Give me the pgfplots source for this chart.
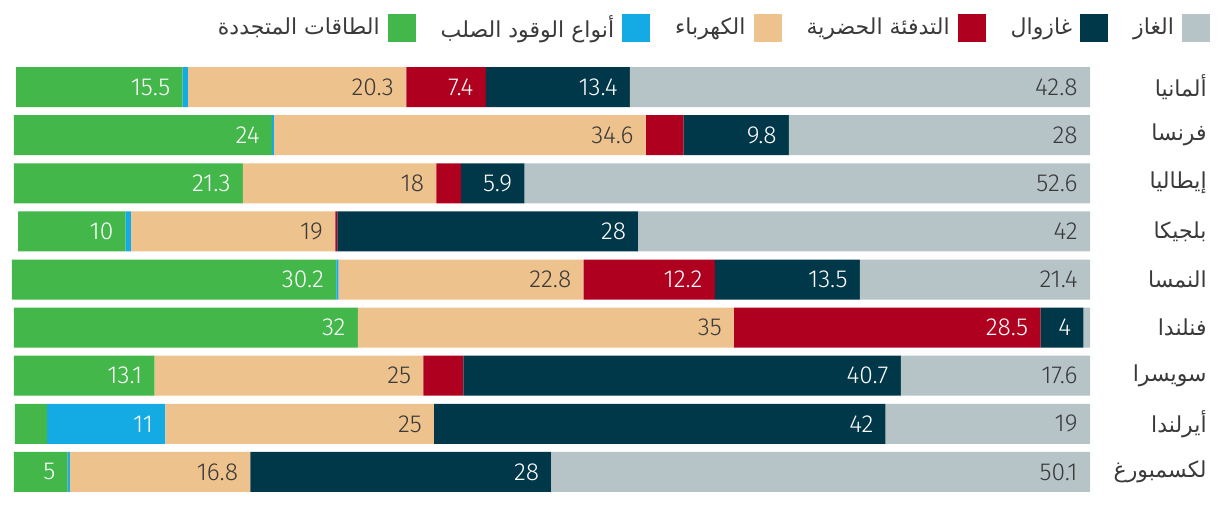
\documentclass[border=0pt]{standalone}
\usepackage{fontspec}
\usepackage{pgfplots}
\usepackage{pgfplotstable}
\pgfplotsset{compat=1.18}
\TeXXeTstate=1
\IfFontExistsTF{Fira Sans Light}{\setmainfont{Fira Sans Light}}{\setmainfont{Lato}}
\newfontfamily\arabicfont[Script=Arabic]{DejaVu Sans}
\definecolor{cGas}{HTML}{B6C4C8}
\definecolor{cOil}{HTML}{003749}
\definecolor{cHeat}{HTML}{B0001F}
\definecolor{cElec}{HTML}{EDC28D}
\definecolor{cSolid}{HTML}{14ABE4}
\definecolor{cRen}{HTML}{43B74A}
\definecolor{cTxt}{HTML}{3A3A3A}
\pgfplotsset{
  sqlegend/.style={legend image code/.code={\fill[##1] (0pt,-7pt) rectangle (14pt,7pt);}},
  frame/.style={scale only axis, width=537.5pt, height=216.5pt,
    xmin=0, xmax=100, ymin=-0.5, ymax=8.5, x dir=reverse, y dir=reverse,
    at={(7.5pt,4pt)}, anchor=south west, axis line style={draw=none},
    major tick length=0pt, tick style={draw=none}, xtick=\empty, clip=false},
  lab/.style={draw=none, mark=none, nodes near coords, point meta=explicit symbolic,
    nodes near coords style={anchor=east, xshift=-6pt, inner sep=0pt,
      font=\fontsize{12.3}{14}\selectfont, text=#1}}
}
\pgfplotstableread{
y gas oil heat elec solid ren
0 42.8 13.4 7.4 20.3 0.5 15.5
1 28 9.8 3.5 34.6 0.2 24
2 52.6 5.9 2.3 18 0 21.3
3 42 28 0.2 19 0.5 10
4 21.4 13.5 12.2 22.8 0.2 30.2
5 0.6 4 28.5 35 0 32
6 17.6 40.7 3.7 25 0 13.1
7 19 42 0 25 11 3
8 50.1 28 0 16.8 0.2 5
}\datatable
\pgfplotstableread{
x y lab
0 0 42.8
63.6 0 20.3
0 1 28
41.3 1 34.6
0 2 52.6
60.8 2 18
0 3 42
70.2 3 19
0 4 21.4
47.1 4 22.8
33.1 5 35
0 6 17.6
62 6 25
0 7 19
61 7 25
0 8 50.1
78.1 8 16.8
}\darklabels
\pgfplotstableread{
x y lab
42.8 0 13.4
56.2 0 7.4
84.4 0 15.5
28 1 9.8
76.1 1 24
52.6 2 5.9
78.8 2 21.3
42 3 28
89.7 3 10
21.4 4 13.5
34.9 4 12.2
70.1 4 30.2
0.6 5 4
4.6 5 28.5
68.1 5 32
17.6 6 40.7
87 6 13.1
19 7 42
86 7 11
50.1 8 28
95.1 8 5
}\whitelabels
\begin{document}
\begin{tikzpicture}
\path[use as bounding box] (0,0) rectangle (610pt,252pt);
\begin{axis}[frame, xbar stacked, bar width=20pt,
  ytick={0,...,8},
  yticklabels={{\beginR ألمانيا\endR},{\beginR فرنسا\endR},{\beginR إيطاليا\endR},{\beginR بلجيكا\endR},{\beginR النمسا\endR},{\beginR فنلندا\endR},{\beginR سويسرا\endR},{\beginR أيرلندا\endR},{\beginR لكسمبورغ\endR}},
  yticklabel pos=right,
  yticklabel style={font=\arabicfont\fontsize{11}{13}\selectfont, anchor=east, xshift=58.5pt, inner sep=0pt, text=cTxt},
  legend plot pos=right, reverse legend,
  legend style={draw=none, fill=none, at={(1.1116,1.0808)}, anchor=east,
    legend columns=-1, inner sep=0pt, outer sep=0pt,
    font=\arabicfont\fontsize{11}{13}\selectfont, text=cTxt,
    nodes={inner sep=0pt},
    /tikz/every odd column/.append style={column sep=4pt},
    /tikz/every even column/.append style={column sep=12.5pt}},
]
\addplot[fill=cGas, draw=none, sqlegend] table[x=gas, y=y] {\datatable};
\addlegendentry{\beginR الغاز\endR}
\addplot[fill=cOil, draw=none, sqlegend] table[x=oil, y=y] {\datatable};
\addlegendentry{\beginR غازوال\endR}
\addplot[fill=cHeat, draw=none, sqlegend] table[x=heat, y=y] {\datatable};
\addlegendentry{\beginR التدفئة الحضرية\endR}
\addplot[fill=cElec, draw=none, sqlegend] table[x=elec, y=y] {\datatable};
\addlegendentry{\beginR الكهرباء\endR}
\addplot[fill=cSolid, draw=none, sqlegend] table[x=solid, y=y] {\datatable};
\addlegendentry{\beginR أنواع الوقود الصلب\endR}
\addplot[fill=cRen, draw=none, sqlegend] table[x=ren, y=y] {\datatable};
\addlegendentry{\beginR الطاقات المتجددة\endR}
\end{axis}
\begin{axis}[frame, ytick=\empty]
\addplot[lab=cTxt] table[x=x, y=y, meta=lab] {\darklabels};
\addplot[lab=white] table[x=x, y=y, meta=lab] {\whitelabels};
\end{axis}
\end{tikzpicture}
\end{document}
